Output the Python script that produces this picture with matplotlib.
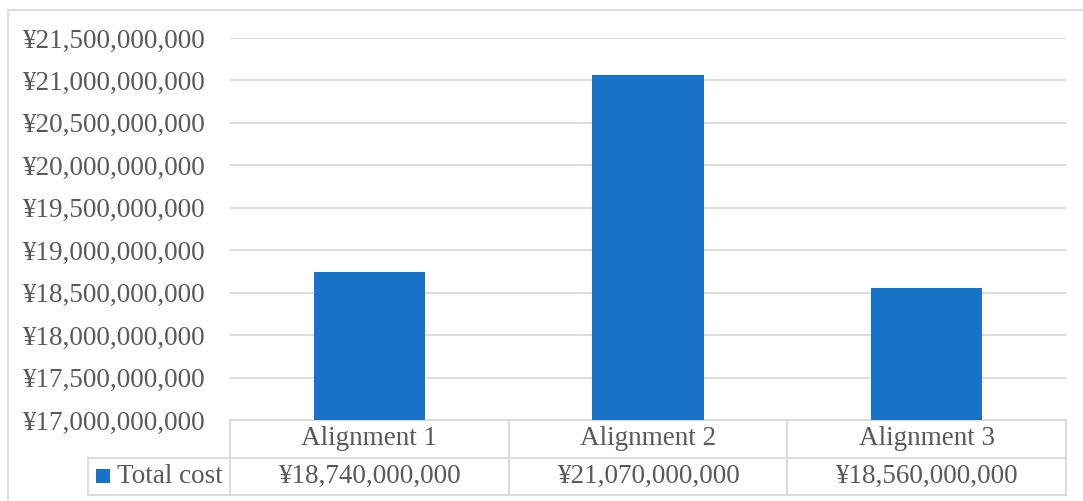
import matplotlib
matplotlib.use('Agg')
import matplotlib.pyplot as plt
from matplotlib import patches, transforms
from matplotlib.ticker import FuncFormatter

# data
categories = ['Alignment 1', 'Alignment 2', 'Alignment 3']
total_cost = [18740000000, 21070000000, 18560000000]
series_name = 'Total cost'
y_min, y_max, y_step = 17000000000, 21500000000, 500000000

BAR_COLOR = '#1872C8'
GRID_COLOR = '#D9D9D9'
TEXT_COLOR = '#595959'
W, H = 1083, 501

plt.rcParams['font.family'] = ['Liberation Serif', 'DejaVu Serif']


def px(x, y):
    # pixel position (from top-left) -> figure fraction
    return x / W, 1 - y / H


def yen(v, pos=None):
    return '¥{:,.0f}'.format(v)


fig = plt.figure(figsize=(W / 100, H / 100), dpi=100)

# outer chart border (right and bottom edges fall outside the image)
fig.patches.append(patches.Rectangle(px(8, 510), 1090 / W, 500 / H, transform=fig.transFigure,
                                     fill=False, edgecolor=GRID_COLOR, linewidth=1.3))

left, top = px(230, 38)
right, bottom = px(1066, 420)
ax = fig.add_axes([left, bottom, right - left, top - bottom])

x = list(range(len(categories)))
ax.bar(x, total_cost, width=0.4, color=BAR_COLOR, zorder=3)
ax.set_xlim(-0.5, len(categories) - 0.5)
ax.set_ylim(y_min, y_max)
ax.set_yticks(range(y_min, y_max + 1, y_step))
ax.yaxis.set_major_formatter(FuncFormatter(yen))
ax.tick_params(axis='y', length=0, pad=18, labelsize=19.5, labelcolor=TEXT_COLOR)
ax.set_xticks([])
ax.grid(axis='y', color=GRID_COLOR, linewidth=1.3, zorder=0)
for s in ax.spines.values():
    s.set_visible(False)

# data table below the plot
tr = transforms.blended_transform_factory(ax.transData, fig.transFigure)
y_top = px(0, 420)[1]
y_mid = px(0, 457.5)[1]
y_bot = px(0, 495)[1]
lkw = dict(color=GRID_COLOR, linewidth=1.3, clip_on=False)

ax.plot([-0.5, len(categories) - 0.5], [y_top, y_top], transform=tr, **lkw)
ax.plot([-0.5, len(categories) - 0.5], [y_mid, y_mid], transform=tr, **lkw)
ax.plot([-0.5, len(categories) - 0.5], [y_bot, y_bot], transform=tr, **lkw)
for b in range(len(categories) + 1):
    ax.plot([b - 0.5, b - 0.5], [y_top, y_bot], transform=tr, **lkw)

for i, (cat, val) in enumerate(zip(categories, total_cost)):
    ax.text(i, (y_top + y_mid) / 2, cat, transform=tr, ha='center', va='center',
            fontsize=19.5, color=TEXT_COLOR)
    ax.text(i, (y_mid + y_bot) / 2, yen(val), transform=tr, ha='center', va='center',
            fontsize=19.5, color=TEXT_COLOR)

# legend cell
lx0 = 88 / W
fig.lines.append(plt.Line2D([lx0, left], [y_mid, y_mid], transform=fig.transFigure, **lkw))
fig.lines.append(plt.Line2D([lx0, left], [y_bot, y_bot], transform=fig.transFigure, **lkw))
fig.lines.append(plt.Line2D([lx0, lx0], [y_mid, y_bot], transform=fig.transFigure, **lkw))
sx, sy = px(96, 483)
fig.patches.append(patches.Rectangle((sx, sy), 14 / W, 14 / H, transform=fig.transFigure,
                                     facecolor=BAR_COLOR, edgecolor='none'))
fig.text(117 / W, (y_mid + y_bot) / 2, series_name, ha='left', va='center',
         fontsize=19.5, color=TEXT_COLOR)

plt.savefig('out.png', dpi=100)
